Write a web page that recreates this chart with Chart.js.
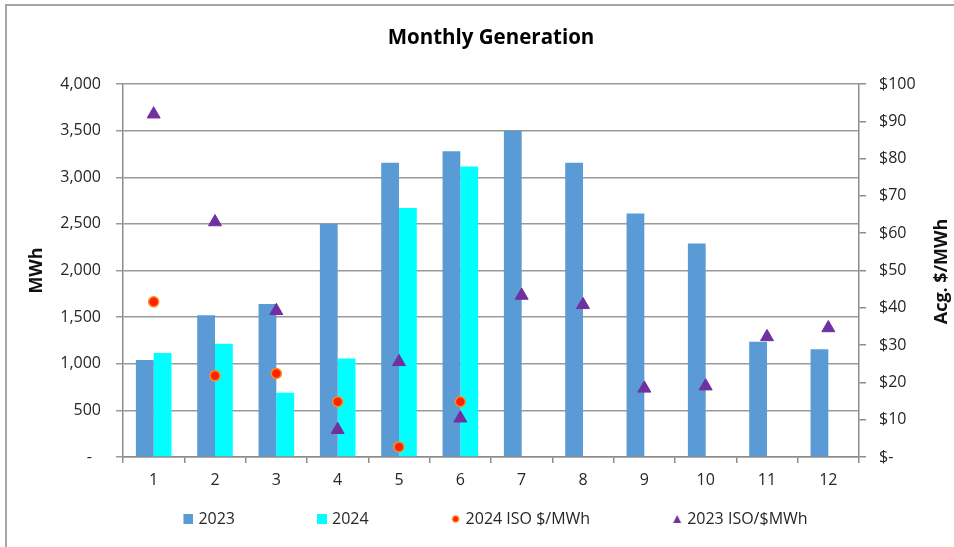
<!DOCTYPE html>
<html>
<head>
<meta charset="utf-8">
<script src="https://cdn.jsdelivr.net/npm/chart.js@4.4.1/dist/chart.umd.min.js"></script>
<style>
  html, body { margin: 0; padding: 0; background: #fff; overflow: hidden; }
  #frame { position: absolute; left: 5px; top: 4px; width: 1000px; height: 600px;
           border-left: 2px solid #a6a6a6; border-top: 2px solid #a6a6a6; }
  #chart { position: absolute; left: 0; top: 0; }
</style>
</head>
<body>
<div id="frame"></div>
<canvas id="chart" width="965" height="547"></canvas>
<script>
// months on the x axis
var months = ['1', '2', '3', '4', '5', '6', '7', '8', '9', '10', '11', '12'];

// MWh generated
var gen2023 = [1040, 1520, 1640, 2500, 3155, 3280, 3500, 3155, 2610, 2290, 1235, 1155];
var gen2024 = [1115, 1215, 690, 1055, 2670, 3115, null, null, null, null, null, null];

// ISO price $/MWh
var iso2024 = [41.6, 21.8, 22.4, 14.8, 2.7, 14.8, null, null, null, null, null, null];
var iso2023 = [91.9, 63.0, 39.2, 7.3, 25.5, 10.4, 43.3, 40.8, 18.4, 19.0, 32.2, 34.6];

// tick labels
var mwhTicks = [0, 500, 1000, 1500, 2000, 2500, 3000, 3500, 4000];
var priceTicks = [0, 10, 20, 30, 40, 50, 60, 70, 80, 90, 100];

Chart.defaults.font.family = '"Open Sans", sans-serif';
Chart.defaults.color = '#262626';

var gridColor = '#9a9a9a';
var axisColor = '#8c8c8c';

// legend markers sit at the right end of a wide box, so items get Excel-like spacing
var boxW = 69;
function legendIcon(draw) {
    var c = document.createElement('canvas');
    c.width = boxW + 6;
    c.height = 12;
    draw(c.getContext('2d'), c.width - 5);
    return c;
}
var icons = [
    legendIcon(function (g, cx) { g.fillStyle = '#5B9BD5'; g.fillRect(cx - 5, 1, 10, 10); }),
    legendIcon(function (g, cx) { g.fillStyle = '#00FFFF'; g.fillRect(cx - 5, 1, 10, 10); }),
    legendIcon(function (g, cx) {
        g.fillStyle = '#FF2A00'; g.strokeStyle = '#FF8C1A'; g.lineWidth = 1;
        g.beginPath(); g.arc(cx, 6, 3.2, 0, Math.PI * 2); g.fill(); g.stroke();
    }),
    legendIcon(function (g, cx) {
        g.fillStyle = '#7030A0';
        g.beginPath(); g.moveTo(cx, 2); g.lineTo(cx + 4, 10); g.lineTo(cx - 4, 10); g.closePath(); g.fill();
    })
];

// right axis title reads bottom-to-top like the left one
var rightTitle = {
    id: 'rightTitle',
    afterDraw: function (chart) {
        var ctx = chart.ctx;
        var area = chart.chartArea;
        ctx.save();
        ctx.translate(942, (area.top + area.bottom) / 2 + 1);
        ctx.rotate(-Math.PI / 2);
        ctx.font = 'bold 18px "Open Sans"';
        ctx.fillStyle = '#111';
        ctx.textAlign = 'center';
        ctx.textBaseline = 'middle';
        ctx.fillText('Acg. $/MWh', 0, 0);
        ctx.restore();
    }
};

var defaultLabels = Chart.defaults.plugins.legend.labels.generateLabels;

var ctx = document.getElementById('chart').getContext('2d');
var chart = new Chart(ctx, {
    type: 'bar',
    data: {
        labels: months,
        datasets: [{
            label: '2023',
            data: gen2023,
            backgroundColor: '#5B9BD5',
            yAxisID: 'y',
            order: 3
        }, {
            label: '2024',
            data: gen2024,
            backgroundColor: '#00FFFF',
            yAxisID: 'y',
            order: 3
        }, {
            type: 'line',
            label: '2024 ISO $/MWh',
            data: iso2024,
            showLine: false,
            pointStyle: 'circle',
            pointRadius: 5,
            pointBackgroundColor: '#FF2200',
            pointBorderColor: '#FF8C1A',
            pointBorderWidth: 1.5,
            yAxisID: 'y1',
            order: 2
        }, {
            type: 'line',
            label: '2023 ISO/$MWh',
            data: iso2023,
            showLine: false,
            pointStyle: 'triangle',
            pointRadius: 7.5,
            pointBackgroundColor: '#7030A0',
            pointBorderColor: '#7030A0',
            pointBorderWidth: 1,
            yAxisID: 'y1',
            order: 1
        }]
    },
    options: {
        responsive: false,
        animation: false,
        devicePixelRatio: 1,
        categoryPercentage: 0.58,
        barPercentage: 1,
        layout: { padding: { left: 0, right: 36, top: 0, bottom: 10 } },
        plugins: {
            tooltip: { enabled: false },
            title: {
                display: true,
                fullSize: false,
                text: 'Monthly Generation',
                color: '#000',
                font: { size: 20.5, weight: 'bold' },
                padding: { top: 25.7, bottom: 33.7 }
            },
            legend: {
                position: 'bottom',
                labels: {
                    usePointStyle: true,
                    pointStyleWidth: boxW,
                    boxHeight: 10,
                    padding: 20,
                    color: '#262626',
                    font: { size: 16 },
                    sort: function (a, b) { return a.datasetIndex - b.datasetIndex; },
                    generateLabels: function (chart) {
                        var items = defaultLabels(chart);
                        items.forEach(function (it) { it.pointStyle = icons[it.datasetIndex]; });
                        return items;
                    }
                }
            }
        },
        scales: {
            x: {
                grid: { offset: true, drawOnChartArea: false, tickLength: 6, color: axisColor, lineWidth: 1.5 },
                border: { color: axisColor, width: 1.5 },
                ticks: { padding: 8, font: { size: 16 } },
                afterFit: function (s) { s.height = 34; }
            },
            y: {
                position: 'left',
                min: mwhTicks[0],
                max: mwhTicks[mwhTicks.length - 1],
                afterBuildTicks: function (s) { s.ticks = mwhTicks.map(function (v) { return { value: v }; }); },
                ticks: {
                    padding: 15,
                    font: { size: 16 },
                    callback: function (v) { return v === 0 ? '-\u2007' : v.toLocaleString('en-US'); }
                },
                grid: { color: gridColor, lineWidth: 1.5, tickLength: 7 },
                border: { color: axisColor, width: 1.5 },
                title: {
                    display: true,
                    text: 'MWh',
                    color: '#111',
                    font: { size: 18, weight: 'bold' },
                    padding: { top: 26, bottom: 0 }
                },
                afterFit: function (s) { s.width = 123; }
            },
            y1: {
                position: 'right',
                min: priceTicks[0],
                max: priceTicks[priceTicks.length - 1],
                afterBuildTicks: function (s) { s.ticks = priceTicks.map(function (v) { return { value: v }; }); },
                ticks: {
                    padding: 13,
                    font: { size: 16 },
                    callback: function (v) { return v === 0 ? '$-' : '$' + v; }
                },
                grid: { drawOnChartArea: false, color: axisColor, lineWidth: 1.5, tickLength: 7 },
                border: { color: axisColor, width: 1.5 },
                afterFit: function (s) { s.width = 965 - 36 - 859; }
            }
        }
    },
    plugins: [rightTitle]
});
</script>
</body>
</html>
